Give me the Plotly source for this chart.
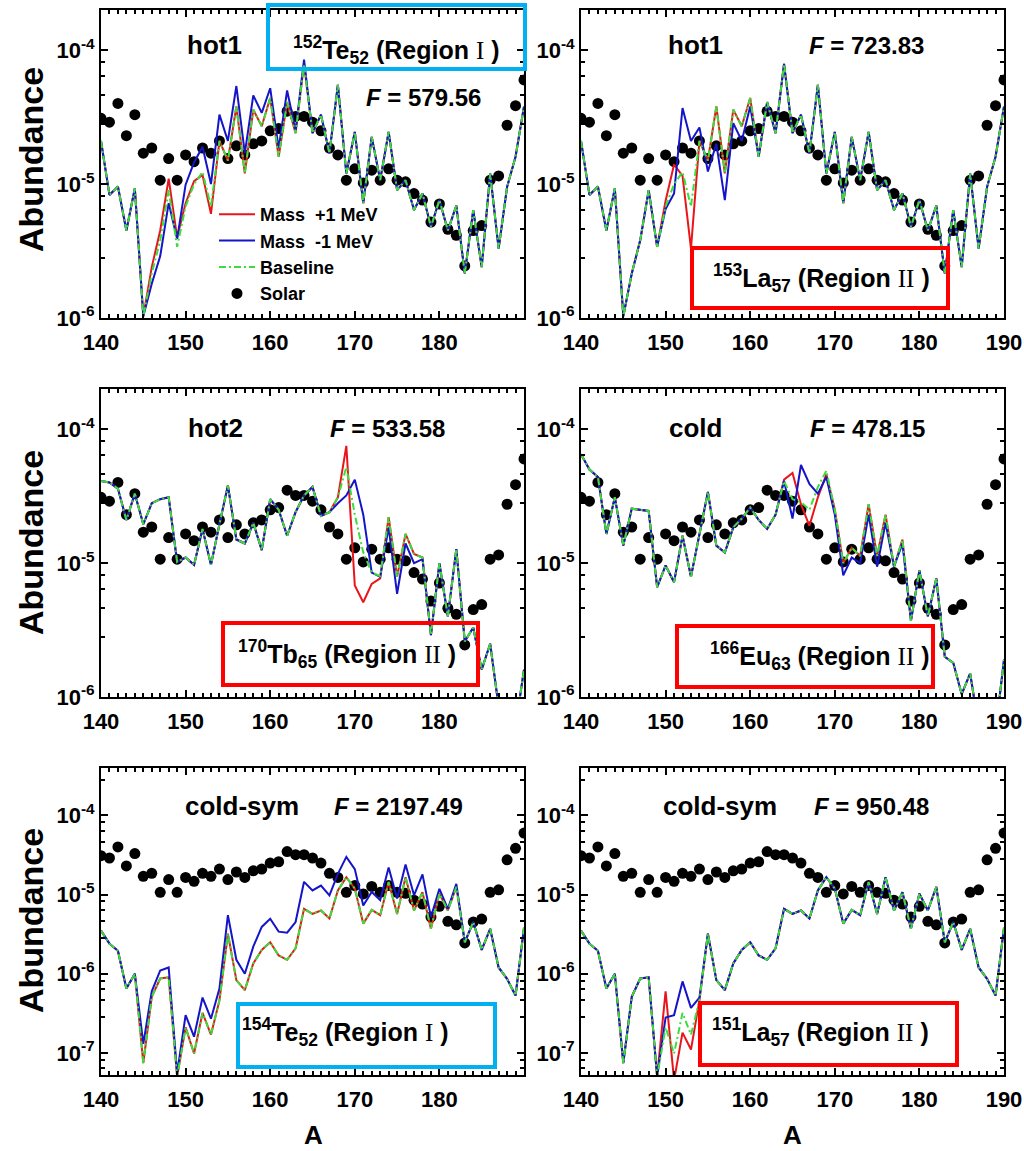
import plotly.graph_objects as go

# ---------------------------------------------------------------- data
A = list(range(140, 191))

solar = [3.1e-5, 2.9e-5, 4.0e-5, 2.3e-5, 3.3e-5, 1.7e-5, 1.86e-5, 1.07e-5, 1.55e-5, 1.07e-5,
         1.65e-5, 1.47e-5, 1.86e-5, 1.7e-5, 2.1e-5, 1.55e-5, 1.93e-5, 1.65e-5, 2.0e-5, 2.1e-5,
         2.5e-5, 2.6e-5, 3.5e-5, 3.2e-5, 3.2e-5, 2.9e-5, 2.5e-5, 1.86e-5, 1.65e-5, 1.07e-5,
         1.3e-5, 1.02e-5, 1.27e-5, 1.07e-5, 1.3e-5, 1.07e-5, 1.04e-5, 8.5e-6, 7.6e-6, 5.2e-6,
         7.1e-6, 4.6e-6, 4.15e-6, 2.45e-6, 4.5e-6, 4.9e-6, 1.07e-5, 1.15e-5, 2.75e-5, 3.85e-5,
         6.0e-5]

hot1_base = [2.1e-5, 8.3e-6, 9.6e-6, 4.5e-6, 9.3e-6, 1.03e-6, 2.15e-6, 3.8e-6, 9.0e-6, 3.4e-6,
             6.8e-6, 1.0e-5, 1.23e-5, 6.8e-6, 2.1e-5, 1.5e-5, 3.8e-5, 1.2e-5, 3.6e-5, 2.7e-5,
             4.4e-5, 1.6e-5, 4.1e-5, 2.4e-5, 7.9e-5, 2.4e-5, 3.3e-5, 1.7e-5, 5.5e-5, 1.2e-5,
             2.45e-5, 7.2e-6, 2.25e-5, 1.07e-5, 2.45e-5, 9.0e-6, 1.07e-5, 6.4e-6, 8.5e-6, 4.8e-6,
             7.6e-6, 4.5e-6, 6.9e-6, 2.15e-6, 6.4e-6, 2.4e-6, 1.2e-5, 3.3e-6, 9.5e-6, 1.6e-5,
             3.8e-5]

hot2_base = [4.1e-5, 4.0e-5, 3.6e-5, 2.1e-5, 3.3e-5, 1.95e-5, 2.8e-5, 3.0e-5, 3.1e-5, 1.02e-5,
             1.1e-5, 9.7e-6, 1.8e-5, 9.7e-6, 1.95e-5, 3.8e-5, 1.5e-5, 1.4e-5, 2.0e-5, 1.25e-5,
             3.0e-5, 2.5e-5, 1.6e-5, 2.4e-5, 3.2e-5, 3.7e-5, 2.25e-5, 2.4e-5, 3.1e-5, 5.2e-5,
             2.3e-5, 1.2e-5, 8.5e-6, 8.0e-6, 2.2e-5, 7.9e-6, 1.65e-5, 1.17e-5, 1.1e-5, 2.9e-6,
             1.0e-5, 4.0e-6, 1.27e-5, 2.6e-6, 3.3e-6, 1.6e-6, 2.5e-6, 8.5e-7, 5.0e-7, 6.0e-7,
             1.6e-6]

cold_base = [6.5e-5, 5.0e-5, 4.4e-5, 1.65e-5, 3.1e-5, 1.35e-5, 2.55e-5, 2.5e-5, 2.45e-5, 6.6e-6,
             9.6e-6, 7.2e-6, 1.6e-5, 7.9e-6, 1.65e-5, 3.4e-5, 1.35e-5, 1.2e-5, 1.85e-5, 2.15e-5,
             2.6e-5, 2.1e-5, 1.8e-5, 2.3e-5, 4.1e-5, 3.0e-5, 2.85e-5, 2.5e-5, 3.7e-5, 4.9e-5,
             2.5e-5, 1.0e-5, 1.3e-5, 1.13e-5, 2.75e-5, 1.13e-5, 2.3e-5, 9.4e-6, 1.5e-5, 3.7e-6,
             8.8e-6, 4.0e-6, 7.7e-6, 2.0e-6, 1.8e-6, 1.05e-6, 1.5e-6, 6.0e-7, 5.0e-7, 5.5e-7,
             1.9e-6]

coldsym_base = [3.5e-6, 2.4e-6, 1.95e-6, 6.5e-7, 1.0e-6, 7.4e-8, 5.1e-7, 8.7e-7, 9.0e-7, 5.0e-8,
                2.1e-7, 9.8e-8, 3.2e-7, 1.7e-7, 4.6e-7, 3.2e-6, 8.3e-7, 6.2e-7, 1.35e-6, 2.0e-6,
                2.5e-6, 1.7e-6, 1.5e-6, 2.1e-6, 6.6e-6, 5.7e-6, 6.3e-6, 5.0e-6, 1.13e-5, 1.66e-5,
                1.19e-5, 4.3e-6, 6.4e-6, 5.5e-6, 1.44e-5, 5.7e-6, 1.66e-5, 6.3e-6, 1.07e-5, 3.7e-6,
                1.03e-5, 6.3e-6, 1.25e-5, 2.5e-6, 4.5e-6, 2.0e-6, 3.7e-6, 1.2e-6, 8.6e-7, 5.3e-7,
                3.8e-6]

# abundances that change when the nuclear mass is shifted by +1 / -1 MeV
te152_hot1_plus = {146: 2.4e-6, 147: 4.5e-6, 148: 1.1e-5, 149: 4.0e-6, 150: 7.2e-6,
                   151: 1.05e-5, 152: 1.17e-5, 153: 6.0e-6}
te152_hot1_minus = {146: 1.8e-6, 147: 2.9e-6, 148: 7.2e-6, 149: 3.9e-6, 150: 9.9e-6,
                    151: 1.45e-5, 152: 1.9e-5, 153: 1.0e-5, 154: 3.3e-5, 155: 2.1e-5,
                    156: 5.4e-5, 157: 1.7e-5, 158: 4.6e-5, 159: 3.4e-5, 160: 5.2e-5,
                    161: 1.85e-5, 162: 5.0e-5, 163: 2.5e-5, 164: 8.5e-5}
la153_hot1_plus = {150: 7.5e-6, 151: 1.4e-5, 152: 1.15e-5, 153: 3.3e-6}
la153_hot1_minus = {150: 6.5e-6, 151: 8.5e-6, 152: 3.7e-5, 153: 2.1e-5, 154: 2.65e-5,
                    155: 1.24e-5, 156: 2.0e-5, 157: 7.6e-6, 158: 2.85e-5, 159: 2.1e-5,
                    160: 3.8e-5}
tb170_hot2_plus = {169: 7.5e-5, 170: 6.8e-6, 171: 5.1e-6, 172: 7.0e-6, 173: 7.7e-6}
tb170_hot2_minus = {168: 2.8e-5, 169: 3.2e-5, 170: 4.2e-5, 171: 2.3e-5, 172: 8.5e-6,
                    173: 7.9e-6, 174: 1.85e-5, 175: 5.9e-6, 176: 1.4e-5, 177: 1.0e-5,
                    178: 1.07e-5}
eu166_cold_plus = {164: 4.2e-5, 165: 4.7e-5, 166: 2.75e-5, 167: 1.9e-5, 168: 3.1e-5,
                   169: 4.6e-5}
eu166_cold_minus = {165: 2.15e-5, 166: 5.4e-5, 167: 3.9e-5, 168: 3.3e-5, 169: 4.4e-5,
                    170: 2.3e-5, 171: 8.1e-6, 172: 1.1e-5, 173: 1.0e-5, 174: 2.3e-5,
                    175: 9.4e-6, 176: 2.0e-5, 177: 9.4e-6, 178: 1.4e-5}
te154_coldsym_plus = {}
te154_coldsym_minus = {145: 1.3e-7, 146: 6.0e-7, 147: 1.1e-6, 148: 1.2e-6, 149: 5.5e-8,
                       150: 3.0e-7, 151: 1.6e-7, 152: 5.0e-7, 153: 2.7e-7, 154: 6.5e-7,
                       155: 5.5e-6, 156: 1.5e-6, 157: 1.0e-6, 158: 2.2e-6, 159: 3.9e-6,
                       160: 4.95e-6, 161: 3.4e-6, 162: 3.3e-6, 163: 4.5e-6, 164: 1.45e-5,
                       165: 1.13e-5, 166: 1.3e-5, 167: 9.8e-6, 168: 1.83e-5, 169: 3.0e-5,
                       170: 2.1e-5, 171: 7.3e-6, 172: 1.08e-5, 173: 8.5e-6, 174: 2.2e-5,
                       175: 8.9e-6, 176: 2.4e-5, 177: 9.8e-6, 178: 1.8e-5, 179: 5.2e-6,
                       180: 1.18e-5, 181: 6.6e-6, 182: 1.37e-5}
la151_coldsym_plus = {150: 6.0e-7, 151: 4.5e-8, 152: 1.8e-7, 153: 1.1e-7}
la151_coldsym_minus = {150: 2.8e-7, 151: 3.0e-7, 152: 8.0e-7, 153: 3.7e-7, 154: 5.0e-7}

scenarios = ["hot1", "hot1", "hot2", "cold", "cold-sym", "cold-sym"]
F_values = [579.56, 723.83, 533.58, 478.15, 2197.49, 950.48]
nuclides = [("152", "Te", "52", "I"), ("153", "La", "57", "II"), ("170", "Tb", "65", "II"),
            ("166", "Eu", "63", "II"), ("154", "Te", "52", "I"), ("151", "La", "57", "II")]
baselines = [hot1_base, hot1_base, hot2_base, cold_base, coldsym_base, coldsym_base]
plus_runs = [te152_hot1_plus, la153_hot1_plus, tb170_hot2_plus, eu166_cold_plus,
             te154_coldsym_plus, la151_coldsym_plus]
minus_runs = [te152_hot1_minus, la153_hot1_minus, tb170_hot2_minus, eu166_cold_minus,
              te154_coldsym_minus, la151_coldsym_minus]

x_ticks = [140, 150, 160, 170, 180, 190]


def shifted(base, changes):
    return [changes.get(a, v) for a, v in zip(A, base)]


# ---------------------------------------------------------------- layout geometry (px)
W, H = 1024, 1151
COLS = [(101, 524), (581, 1004)]
ROWS = [(10, 318), (389, 697), (768, 1075)]
YRANGES = [[-6.0, -3.7], [-6.0, -3.7], [-7.28, -3.4]]


def px(x):
    return x / W


def py(y):
    return 1 - y / H


RED, BLUE, GREEN = "#e8161b", "#1414c8", "#3ddc3d"
CYAN_BOX, RED_BOX = "#00b0f0", "#ff0000"
FONT = "Liberation Sans, Arial, sans-serif"

label_pos = [(214, 45), (695, 45), (215, 428), (695, 428), (242, 806), (720, 806)]
F_pos = [(423, 97), (866, 45), (387, 428), (867, 428), (398, 806), (871, 806)]
boxes = [(268, 5, 525, 69, CYAN_BOX), (692, 248, 948, 308, RED_BOX),
         (223, 623, 478, 685, RED_BOX), (677, 626, 933, 687, RED_BOX),
         (238, 1004, 495, 1067, CYAN_BOX), (700, 1003, 957, 1065, RED_BOX)]
box_text_pos = [(396, 50), (821, 278), (347, 654), (820, 656), (345, 1032), (820, 1032)]


def note(x, y, text, size, **kw):
    return dict(x=px(x), y=py(y), xref="paper", yref="paper", xanchor="center",
                yanchor="middle", showarrow=False, text=text,
                font=dict(family=FONT, size=size, color="black"), **kw)


fig = go.Figure()
layout = dict(width=W, height=H, margin=dict(l=0, r=0, t=0, b=0, autoexpand=False),
              paper_bgcolor="white", plot_bgcolor="white", showlegend=True)
annotations, shapes = [], []

for i in range(6):
    r, c = divmod(i, 2)
    n = i + 1
    xa, ya = ("x" if n == 1 else f"x{n}"), ("y" if n == 1 else f"y{n}")
    first = i == 0
    base = baselines[i]

    fig.add_trace(go.Scatter(x=A, y=solar, mode="markers", name="Solar",
                             marker=dict(color="black", size=11),
                             xaxis=xa, yaxis=ya, showlegend=first, legendrank=4))
    fig.add_trace(go.Scatter(x=A, y=shifted(base, plus_runs[i]), mode="lines",
                             name="Mass  +1 MeV", line=dict(color=RED, width=2),
                             xaxis=xa, yaxis=ya, showlegend=first, legendrank=1))
    fig.add_trace(go.Scatter(x=A, y=shifted(base, minus_runs[i]), mode="lines",
                             name="Mass  -1 MeV", line=dict(color=BLUE, width=2),
                             xaxis=xa, yaxis=ya, showlegend=first, legendrank=2))
    fig.add_trace(go.Scatter(x=A, y=base, mode="lines", name="Baseline",
                             line=dict(color=GREEN, width=2, dash="7px,3px,2px,3px"),
                             xaxis=xa, yaxis=ya, showlegend=first, legendrank=3))

    x0, x1 = COLS[c]
    y0, y1 = ROWS[r]
    lo, hi = YRANGES[r]
    decades = [d for d in range(-8, -3) if lo - 1e-9 <= d <= hi]
    yvals = [10.0 ** d for d in decades]
    ytext = [f"10<sup>{d}</sup>" for d in decades]
    minor_y = [m * 10.0 ** d for d in range(-8, -3) for m in (2.8, 4.6, 6.4, 8.2)]
    xt = x_ticks if c == 1 else x_ticks[:-1]

    axis_common = dict(showline=True, linecolor="black", linewidth=2, mirror="allticks",
                       ticks="inside", ticklen=7, tickwidth=2, tickcolor="black",
                       showgrid=False, zeroline=False, automargin=False,
                       tickfont=dict(family=FONT, size=22, color="black", weight="bold"))
    layout["xaxis" if n == 1 else f"xaxis{n}"] = dict(
        axis_common, domain=[px(x0), px(x1)], range=[140, 190], anchor=ya,
        tickmode="array", tickvals=xt, ticktext=[str(v) for v in xt],
        ticklabelstandoff=4,
        minor=dict(dtick=1, ticks="inside", ticklen=4, tickwidth=1.5, tickcolor="black"))
    layout["yaxis" if n == 1 else f"yaxis{n}"] = dict(
        axis_common, domain=[py(y1), py(y0)], type="log", range=[lo, hi], anchor=xa,
        tickmode="array", tickvals=yvals, ticktext=ytext,
        minor=dict(tickmode="array", tickvals=minor_y, ticks="inside", ticklen=4,
                   tickwidth=1.5, tickcolor="black"))

    lx, ly = label_pos[i]
    annotations.append(note(lx, ly, f"<b>{scenarios[i]}</b>", 26))
    fx, fy = F_pos[i]
    annotations.append(note(fx, fy, f"<b><i>F</i> = {F_values[i]:.2f}</b>", 24))
    bx0, by0, bx1, by1, bcol = boxes[i]
    shapes.append(dict(type="rect", xref="paper", yref="paper",
                       x0=px(bx0), x1=px(bx1), y0=py(by1), y1=py(by0),
                       line=dict(color=bcol, width=4), fillcolor="rgba(0,0,0,0)"))
    mass, sym, z, reg = nuclides[i]
    tx, ty = box_text_pos[i]
    annotations.append(note(
        tx, ty,
        (f"<b><sup>{mass}</sup>{sym}<sub>{z}</sub> (Region "
         f"<span style=\"font-family:'Liberation Serif';font-weight:normal\">{reg}</span> )</b>"),
        25))

# axis titles
for yc in (160, 543, 921):
    annotations.append(note(31, yc, "<b>Abundance</b>", 34, textangle=-90))
for xc in (313, 792):
    annotations.append(note(xc, 1135, "<b>A</b>", 26))

layout["annotations"] = annotations
layout["shapes"] = shapes
layout["legend"] = dict(x=px(214), y=py(196), xanchor="left", yanchor="top",
                        bgcolor="rgba(0,0,0,0)", borderwidth=0, itemwidth=36,
                        tracegroupgap=0,
                        font=dict(family=FONT, size=18, color="black", weight="bold"))
fig.update_layout(**layout)
fig.write_html("out.html")
